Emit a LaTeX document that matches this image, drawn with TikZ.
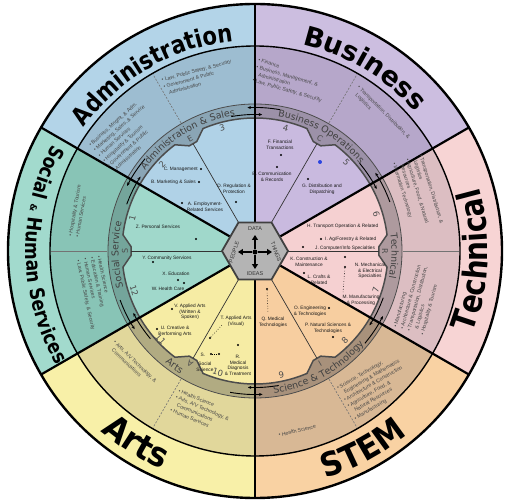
\documentclass[tikz,border=0pt]{standalone}
\usepackage{fontspec}
\setmainfont{Liberation Sans}
\newfontfamily\bigA[FakeStretch=0.85]{DejaVu Sans}
\newfontfamily\bigB{DejaVu Sans}
\newfontfamily\bigC[FakeStretch=0.92]{DejaVu Sans}
\newfontfamily\ringf{DejaVu Sans}
\usetikzlibrary{decorations.text,arrows.meta}

\definecolor{admO}{HTML}{B3D4E8}
\definecolor{admC}{HTML}{9DBDD1}
\definecolor{admR}{HTML}{8AA5B5}
\definecolor{admI}{HTML}{B0D2E7}
\definecolor{busO}{HTML}{CCBEE0}
\definecolor{busC}{HTML}{B6A7CA}
\definecolor{busR}{HTML}{9C91A8}
\definecolor{busI}{HTML}{C9BADF}
\definecolor{tecO}{HTML}{F7D4D4}
\definecolor{tecC}{HTML}{DCBEC2}
\definecolor{tecR}{HTML}{AE9A9E}
\definecolor{tecI}{HTML}{F5D0D1}
\definecolor{stmO}{HTML}{F9D2A3}
\definecolor{stmC}{HTML}{D8B895}
\definecolor{stmR}{HTML}{A8917B}
\definecolor{stmI}{HTML}{F7CEA0}
\definecolor{artO}{HTML}{F8F0A8}
\definecolor{artC}{HTML}{E1D79B}
\definecolor{artR}{HTML}{B1AB82}
\definecolor{artI}{HTML}{F6ECA4}
\definecolor{socO}{HTML}{A2DACD}
\definecolor{socC}{HTML}{88C4B6}
\definecolor{socR}{HTML}{74A59B}
\definecolor{socI}{HTML}{A0D8CB}
\definecolor{hexgray}{HTML}{B4B4B4}
\definecolor{bluedot}{HTML}{2B44E0}

\newcommand\socf{\bigA\bfseries\fontsize{20}{20}\selectfont}
\newcommand\socamp{\bigB\bfseries\fontsize{9}{9}\selectfont}
\newcommand\ringfmt{\ringf\fontsize{9.5}{9.5}\selectfont}

\tikzset{
  itm/.style={font=\fontsize{4.8}{5.7}\selectfont, inner sep=0pt, align=center, text=black!90},
  clus/.style={font=\fontsize{5.2}{7}\selectfont, inner sep=0pt, align=left, text=black!72, anchor=north west},
  dotm/.style={circle, fill=black, inner sep=0pt, minimum size=2.2},
  numl/.style={font=\bigB\fontsize{8.5}{8.5}\selectfont, text=black!70, inner sep=0pt},
  notchl/.style={font=\bigB\fontsize{8}{8}\selectfont, text=black!70, inner sep=0pt},
  hexl/.style={font=\fontsize{5.5}{5.5}\selectfont, text=black!80, inner sep=0pt},
  thickdiv/.style={line width=2.2},
  thindiv/.style={line width=0.7, black!80},
  clusdiv/.style={line width=0.6, black!55, dash pattern=on 2pt off 1.5pt},
  ringarrow/.style={line width=0.9, -{Stealth[length=3.5,width=3]}},
  bigtext/.style={decorate, decoration={text along path, text align=center, text={#1}}},
  ringtext/.style={decorate, decoration={text along path, text align=center, text color=black!75, text={#1}}},
}

\begin{document}
\begin{tikzpicture}[x=1bp,y=1bp]
\useasboundingbox (-255,-249) rectangle (255,251);
\fill[white] (-255,-249) rectangle (255,251);
\coordinate (ctr) at (0,0);

% sector fills
\foreach \a/\b/\cc in {90/150/adm,30/90/bus,-30/30/tec,-90/-30/stm,-150/-90/art,150/210/soc} {
  \fill[\cc O] (0,0) -- (\a:247) arc[start angle=\a, end angle=\b, radius=247] -- cycle;
  \fill[\cc C] (0,0) -- (\a:205) arc[start angle=\a, end angle=\b, radius=205] -- cycle;
  \fill[\cc R] (0,0) -- (\a:147) arc[start angle=\a, end angle=\b, radius=147] -- cycle;
  \pgfmathsetmacro\m{(\a+\b)/2}
  \fill[\cc I] (0,0) -- (\a:133) arc[start angle=\a, end angle={\m-7}, radius=133]
     -- ({\m-2}:124) -- ({\m+2}:124) -- ({\m+7}:133)
     arc[start angle={\m+7}, end angle=\b, radius=133] -- cycle;
  \draw[line width=1.5, black!70] (\a:133) arc[start angle=\a, end angle={\m-7}, radius=133]
     -- ({\m-2}:124) -- ({\m+2}:124) -- ({\m+7}:133)
     arc[start angle={\m+7}, end angle=\b, radius=133];
}

% circles
\draw[black!70, line width=0.8] (ctr) circle[radius=147];
\draw[line width=1.4] (ctr) circle[radius=205];

% dividers
\foreach \t in {60,120,240,300} \draw[clusdiv] (\t:148) -- (\t:204);
\foreach \t in {0,180} \draw[line width=0.6, black!55] (\t:148) -- (\t:204);
\foreach \t in {0,60,...,300} \draw[thindiv] (\t:33) -- (\t:124);
\foreach \t in {30,90,...,330} \draw[thickdiv] (\t:28.6) -- (\t:247);
\draw[line width=2.4] (ctr) circle[radius=247];

% ring arrows
\foreach \t in {30,90,150,210,270,330} {
  \draw[ringarrow] ({\t-10}:143.5) arc[start angle={\t-10}, end angle={\t+3}, radius=143.5];
  \draw[ringarrow] ({\t+10}:136.5) arc[start angle={\t+10}, end angle={\t-3}, radius=136.5];
}

% big labels
\path[bigtext={|\bigA\bfseries\fontsize{25}{25}\selectfont|Administration}] (150:211) arc[start angle=150, end angle=90, radius=211];
\path[bigtext={|\bigB\bfseries\fontsize{27}{27}\selectfont|Business}] (89:212) arc[start angle=89, end angle=29, radius=212];
\path[bigtext={|\bigA\bfseries\fontsize{33}{33}\selectfont|Technical}] (-33:233) arc[start angle=-33, end angle=28, radius=233];
\path[bigtext={|\bigC\bfseries\fontsize{33}{33}\selectfont|STEM}] (-91.5:238) arc[start angle=-91.5, end angle=-31.5, radius=238];
\path[bigtext={|\bigC\bfseries\fontsize{34}{34}\selectfont|Arts}] (-151.8:237) arc[start angle=-151.8, end angle=-91.8, radius=237];
\path[bigtext={|\socf|Social |\socamp|{\&}|\socf| Human Services}] (146:229) arc[start angle=146, end angle=216, radius=229];

% ring labels
\path[ringtext={|\ringfmt|Administration {\&} Sales}] (151:136.5) arc[start angle=151, end angle=91, radius=136.5];
\path[ringtext={|\ringfmt|Business Operations}] (90:136.5) arc[start angle=90, end angle=30, radius=136.5];
\path[ringtext={|\ringfmt|Technical}] (28:136.5) arc[start angle=28, end angle=-32, radius=136.5];
\path[ringtext={|\ringfmt|Science {\&} Technology}] (-91.5:143.5) arc[start angle=-91.5, end angle=-31.5, radius=143.5];
\path[ringtext={|\ringfmt|Arts}] (-155:143.5) arc[start angle=-155, end angle=-95, radius=143.5];
\path[ringtext={|\ringfmt|Social Service}] (211.5:136.5) arc[start angle=211.5, end angle=151.5, radius=136.5];

% numbers and notch letters
\foreach \n/\t in {1/165,2/137,3/105,4/76,5/44,6/17}
  \node[numl, rotate=\t-90] (n\n) at (\t:127) {\n};
\foreach \n/\t/\r in {7/-18/127,8/-45/127,9/-78/127,10/-107/127,11/-137/129,12/-162/127}
  \node[numl, rotate=\t+90] (n\n) at (\t:\r) {\n};
\foreach \l/\t in {E/120,C/60,R/0,I/-60,A/-120,S/180}
  \node[notchl, rotate=\t-90] (L\l) at (\t:130) {\l};

% cluster band texts
\node[clus, rotate=42] (cAl) at (-167,107) {• Business, Mngmt, \& Adm.\\• Marketing, Sales, \& Service\\• Human Services\\• Hospitality \& Tourism\\• Government \& Public\\\hspace*{4pt}Administration};
\node[clus, rotate=15] (cAr) at (-94,173) {• Law, Public Safety, \& Security\\• Government \& Public\\\hspace*{4pt}Administration};
\node[clus, rotate=-16] (cBl) at (4,193) {• Finance\\• Business, Management, \&\\\hspace*{4pt}Administration\\• Law, Public Safety, \& Security};
\node[clus, rotate=-45] (cBr) at (105,166) {• Transportation, Distribution, \&\\\hspace*{4pt}Logistics};
\node[clus, rotate=-73] (cTu) at (168,97) {• Transportation, Distribution, \&\\\hspace*{4pt}Logistics\\• Agriculture, Food, \& Natural\\\hspace*{4pt}Resources\\• Information Technology};
\node[clus, rotate=75] (cTl) at (138,-76) {• Manufacturing\\• Architecture \& Construction\\• Transportation, Distribution,\\\hspace*{4pt}\& Logistics\\• Hospitality \& Tourism};
\node[clus, rotate=80] (cSu) at (-187,15) {• Hospitality \& Tourism\\• Human Services};
\node[clus, rotate=-78] (cSl) at (-154,-4) {• Health Science\\• Education \& Training\\• Human Services\\• Law, Public Safety, \& Security};
\node[clus, rotate=30] (cMr) at (81,-135.5) {• Science, Technology,\\\hspace*{4pt}Engineering \& Mathematics\\• Architecture \& Construction\\• Agriculture, Food, \&\\\hspace*{4pt}Natural Resources\\• Manufacturing};
\node[clus, rotate=13] (cMl) at (23,-182) {• Health Science};
\node[clus, rotate=-23] (cRr) at (-75.5,-137.5) {• Health Science\\• Arts, A/V Technology, \&\\\hspace*{4pt}Communications\\• Human Services};
\node[clus, rotate=-44] (cRl) at (-139,-89) {• Arts, A/V Technology, \&\\\hspace*{4pt}Communications};

% inner items: Administration
\node[itm, anchor=east] (iC) at (-57,82) {C. Management};
\node[dotm] (dC) at (-54,82) {};
\node[itm, anchor=east] (iB) at (-59,69) {B. Marketing \& Sales};
\node[dotm] (dB) at (-56,69) {};
\node[itm] (iA) at (-50,44) {A. Employment-\\Related Services};
\node[dotm] (dA) at (-73,48) {};
\node[itm] (iD) at (-21,62) {D. Regulation \&\\Protection};
\node[dotm] (dD) at (-19,49) {};
% Business
\node[itm] (iF) at (25,106) {F. Financial\\Transactions};
\node[dotm] (dF) at (26,96) {};
\node[itm] (iE) at (17,74) {E. Communication\\\& Records};
\node[dotm] (dE) at (22,84) {};
\node[itm] (iG) at (67,62) {G. Distribution and\\Dispatching};
\node[dotm] (dG) at (53,72) {};
\node[circle, fill=bluedot, inner sep=0pt, minimum size=4] (blue) at (65,89) {};
% Technical
\node[itm, anchor=west] (iH) at (52,25) {H. Transport Operation \& Related};
\node[itm, anchor=west] (iI) at (70,12) {I. Ag/Forestry \& Related};
\node[dotm] (dI) at (66,12) {};
\node[itm, anchor=west] (iJ) at (60,3) {J. Computer/Info Specialties};
\node[dotm] (dJ) at (48,4) {};
\node[itm] (iK) at (54,-11) {K. Construction \&\\Maintenance};
\node[dotm] (dK) at (90,-6) {};
\node[itm] (iL) at (64,-29) {L. Crafts \&\\Related};
\node[dotm] (dL) at (49,-22) {};
\node[itm] (iN) at (115,-20) {N. Mechanical\\\& Electrical\\Specialties};
\node[dotm] (dN) at (90,-16) {};
\coordinate (eN) at (88,-42);
\draw[dotted, line width=0.6] (dN) -- (eN);
\node[itm] (iM) at (106,-49) {M. Manufacturing\\\& Processing};
% STEM
\node[itm] (iO) at (55,-60) {O. Engineering\\\& Technologies};
\node[dotm] (dO) at (74,-57) {};
\node[itm] (iP) at (73,-77) {P. Natural Sciences \&\\Technologies};
\node[dotm] (dP) at (78,-86) {};
\node[itm] (iQ) at (18,-71) {Q. Medical\\Technologies};
\node[dotm] (dQ) at (12,-38) {};
\coordinate (eQ) at (13,-62);
\draw[dotted, line width=0.6] (dQ) -- (eQ);
% Arts
\node[itm] (iT) at (-19,-70) {T. Applied Arts\\(Visual)};
\node[dotm] (dT) at (-45,-87) {};
\coordinate (eT) at (-33,-74);
\draw[dotted, line width=0.6] (dT) -- (eT);
\node[itm] (iS) at (-52,-104) {S.};
\node[dotm] (dS1) at (-44,-103) {};
\node[dotm] (dS2) at (-36,-103) {};
\draw[line width=0.5, dash pattern=on 1pt off 1pt] (dS1) -- (dS2);
\node[itm] (iSs) at (-50,-115.5) {Social\\Science};
\node[itm] (iR) at (-17,-114.5) {R.\\Medical\\Diagnosis\\\& Treatment};
\node[dotm] (dR) at (-17,-94) {};
\node[itm] (iV) at (-65,-61) {V. Applied Arts\\(Written \&\\Spoken)};
\node[dotm] (dV) at (-83,-58) {};
\node[itm] (iU) at (-80,-80) {U. Creative \&\\Performing Arts};
\node[dotm] (dU) at (-98,-78) {};
% Social
\node[itm] (iZ) at (-97,24) {Z. Personal Services};
\node[dotm] (dZ) at (-59,12) {};
\node[itm] (iY) at (-88,-7) {Y. Community Services};
\node[dotm] (dY) at (-102,-11) {};
\node[itm] (iX) at (-79,-23) {X. Education};
\node[dotm] (dX) at (-77,-29) {};
\node[itm] (iW) at (-87,-38) {W. Health Care};
\node[dotm] (dW) at (-71,-32) {};

% hexagon
\draw[fill=hexgray, draw=black!75, line width=1.8] (0:33) -- (60:33) -- (120:33) -- (180:33) -- (240:33) -- (300:33) -- cycle;
\node[hexl] (hD) at (0,22) {DATA};
\node[hexl, rotate=-70] (hT) at (21,-1) {THINGS};
\node[hexl] (hI) at (0,-23) {IDEAS};
\node[hexl, rotate=72] (hP) at (-21,-1) {PEOPLE};
\node[circle, fill=black, inner sep=0pt, minimum size=5] (hc) at (0,-1) {};
\coordinate (aU) at (0,16);
\coordinate (aD) at (0,-18);
\coordinate (aL) at (-17,-1);
\coordinate (aR) at (17,-1);
\foreach \e in {aU,aD,aL,aR}
  \draw[line width=1.6, -{Triangle[length=5,width=6]}] (hc) -- (\e);
\end{tikzpicture}
\end{document}
